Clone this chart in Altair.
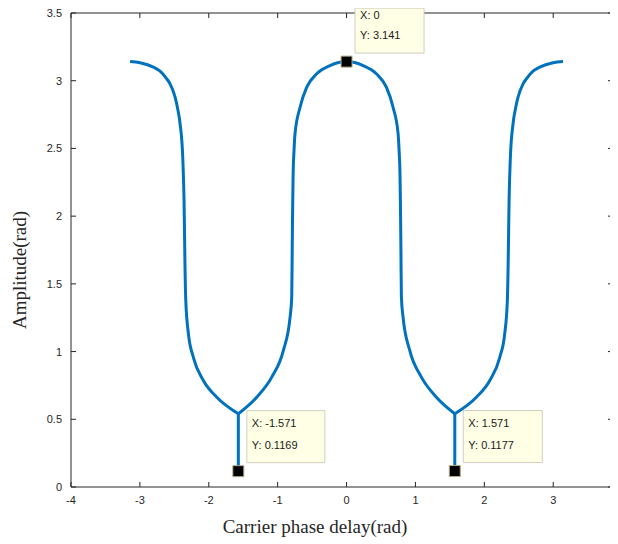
import altair as alt
import pandas as pd

# ---------------- data ----------------
x_ticks = [-4, -3, -2, -1, 0, 1, 2, 3]
x_labels = ["-4", "-3", "-2", "-1", "0", "1", "2", "3"]
y_ticks = [0, 0.5, 1, 1.5, 2, 2.5, 3, 3.5]
y_labels = ["0", "0.5", "1", "1.5", "2", "2.5", "3", "3.5"]
x_title = "Carrier phase delay(rad)"
y_title = "Amplitude(rad)"

arc_left_x = [-3.142, -2.997, -2.804, -2.707, -2.610, -2.562, -2.489, -2.456, -2.417,
              -2.378, -2.359, -2.345, -2.334, -2.296, -2.224, -2.079, -1.884, -1.571]
arc_left_y = [3.141, 3.132, 3.100, 3.070, 3.014, 2.977, 2.878, 2.804, 2.684,
              2.435, 2.115, 1.623, 1.377, 1.133, 0.958, 0.786, 0.663, 0.541]

arc_mid_x = [-1.571, -1.304, -1.086, -0.917, -0.820, -0.796, -0.789, -0.783, -0.776,
             -0.763, -0.748, -0.675, -0.578, -0.433, -0.240, 0.0,
             0.240, 0.433, 0.578, 0.675, 0.748, 0.763, 0.776, 0.783, 0.789, 0.796,
             0.820, 0.917, 1.086, 1.304, 1.571]
arc_mid_y = [0.541, 0.663, 0.811, 1.008, 1.254, 1.400, 1.750, 2.050, 2.300,
             2.480, 2.610, 2.804, 2.952, 3.051, 3.112, 3.141,
             3.112, 3.051, 2.952, 2.804, 2.610, 2.480, 2.300, 2.050, 1.750, 1.400,
             1.254, 1.008, 0.811, 0.663, 0.541]

arc_right_x = [1.571, 1.884, 2.079, 2.224, 2.296, 2.334, 2.345, 2.359, 2.378,
               2.417, 2.456, 2.489, 2.562, 2.610, 2.707, 2.804, 2.997, 3.142]
arc_right_y = [0.541, 0.663, 0.786, 0.958, 1.133, 1.377, 1.623, 2.115, 2.435,
               2.684, 2.804, 2.878, 2.977, 3.014, 3.070, 3.100, 3.132, 3.141]

stem_x = [-1.571, 1.571]
stem_top = [0.541, 0.541]
stem_bottom = [0.1169, 0.1177]

tip_x = [0, -1.571, 1.571]
tip_y = [3.141, 0.1169, 0.1177]
tip_x_text = ["X: 0", "X: -1.571", "X: 1.571"]
tip_y_text = ["Y: 3.141", "Y: 0.1169", "Y: 0.1177"]

# ---------------- tables ----------------
curve = pd.concat([
    pd.DataFrame({"x": arc_left_x, "y": arc_left_y, "seg": "left"}),
    pd.DataFrame({"x": arc_mid_x, "y": arc_mid_y, "seg": "mid"}),
    pd.DataFrame({"x": arc_right_x, "y": arc_right_y, "seg": "right"}),
], ignore_index=True)
stems = pd.DataFrame({"x": stem_x, "y": stem_top, "y2": stem_bottom})
tips = pd.DataFrame({"x": tip_x, "y": tip_y, "tx": tip_x_text, "ty": tip_y_text})
xt = pd.DataFrame({"v": x_ticks, "lab": x_labels})
yt = pd.DataFrame({"v": y_ticks, "lab": y_labels})
one = pd.DataFrame({"xt": [x_title], "yt": [y_title]})

# ---------------- styling ----------------
W, H = 539, 474
AX = "#262626"
BLUE = "#0072BD"
xs = alt.Scale(domain=[-4, 3.824], nice=False, zero=False)
ys = alt.Scale(domain=[0, 3.5], nice=False, zero=False)
NOX = dict(scale=xs, axis=None)
NOY = dict(scale=ys, axis=None)

line = alt.Chart(curve).mark_line(color=BLUE, strokeWidth=3, interpolate="monotone").encode(
    x=alt.X("x:Q", **NOX),
    y=alt.Y("y:Q", **NOY),
    detail="seg:N",
)

stem = alt.Chart(stems).mark_rule(color=BLUE, strokeWidth=3).encode(
    x=alt.X("x:Q", **NOX),
    y=alt.Y("y:Q", **NOY),
    y2="y2:Q",
)

# MATLAB-style box: left & bottom axis lines, top line, inward ticks
left_line = alt.Chart(one).mark_rule(color=AX, strokeWidth=1).encode(
    x=alt.value(0), y=alt.value(0), y2=alt.value(H))
bottom_line = alt.Chart(one).mark_rule(color=AX, strokeWidth=1).encode(
    x=alt.value(0), x2=alt.value(W), y=alt.value(H))
top_line = alt.Chart(one).mark_rule(color=AX, strokeWidth=1).encode(
    x=alt.value(0), x2=alt.value(W), y=alt.value(0))
bt = alt.Chart(xt).mark_rule(color=AX, strokeWidth=1).encode(
    x=alt.X("v:Q", **NOX), y=alt.value(H), y2=alt.value(H - 5))
tt = alt.Chart(xt).mark_rule(color=AX, strokeWidth=1).encode(
    x=alt.X("v:Q", **NOX), y=alt.value(0), y2=alt.value(5))
lt = alt.Chart(yt).mark_rule(color=AX, strokeWidth=1).encode(
    y=alt.Y("v:Q", **NOY), x=alt.value(0), x2=alt.value(5))
rt = alt.Chart(yt).mark_rule(color=AX, strokeWidth=1).encode(
    y=alt.Y("v:Q", **NOY), x=alt.value(W - 2), x2=alt.value(W))

# tick labels and axis titles
xlab = alt.Chart(xt).mark_text(font="Liberation Sans", fontSize=11, color=AX,
                               align="center", baseline="middle").encode(
    x=alt.X("v:Q", **NOX), y=alt.value(H + 14), text="lab:N")
ylab = alt.Chart(yt).mark_text(font="Liberation Sans", fontSize=11, color=AX,
                               align="right", baseline="middle", dy=1).encode(
    y=alt.Y("v:Q", **NOY), x=alt.value(-9), text="lab:N")
xtit = alt.Chart(one).mark_text(font="Liberation Serif", fontSize=19, color=AX,
                                align="center", baseline="middle").encode(
    x=alt.value(244), y=alt.value(H + 40), text="xt:N")
ytit = alt.Chart(one).mark_text(font="Liberation Serif", fontSize=19, color=AX,
                                align="center", baseline="middle", angle=270).encode(
    x=alt.value(-51), y=alt.value(257), text="yt:N")

markers = alt.Chart(tips).mark_square(size=121, filled=True, color="black",
                                      stroke="#b3ad88", strokeWidth=1, opacity=1).encode(
    x=alt.X("x:Q", **NOX),
    y=alt.Y("y:Q", **NOY),
)

# data-tip boxes (per-tip box size and text offsets, in pixels)
box_w = [69, 78, 79]
box_h = [45, 52, 52]
dy_x = [-45.8, -47.5, -47.5]
dy_y = [-25.8, -25.5, -25.5]
layers = [line, stem, left_line, bottom_line, top_line, bt, tt, lt, rt,
          xlab, ylab, xtit, ytit, markers]
for i, w in enumerate(box_w):
    sub = tips.iloc[[i]]
    h = box_h[i]
    box = alt.Chart(sub).mark_rect(width=w, height=h, xOffset=8.5 + w / 2,
                                   yOffset=-(8.5 + h / 2), fill="#ffffe6",
                                   stroke="#cfcfc0", strokeWidth=1).encode(
        x=alt.X("x:Q", **NOX),
        y=alt.Y("y:Q", **NOY),
    )
    t1 = alt.Chart(sub).mark_text(align="left", baseline="middle", dx=13.5, dy=dy_x[i],
                                  font="Liberation Sans", fontSize=11, color="#1a1a1a").encode(
        x=alt.X("x:Q", **NOX),
        y=alt.Y("y:Q", **NOY),
        text="tx:N",
    )
    t2 = alt.Chart(sub).mark_text(align="left", baseline="middle", dx=13.5, dy=dy_y[i],
                                  font="Liberation Sans", fontSize=11, color="#1a1a1a").encode(
        x=alt.X("x:Q", **NOX),
        y=alt.Y("y:Q", **NOY),
        text="ty:N",
    )
    layers += [box, t1, t2]

chart = alt.layer(*layers).properties(
    width=W, height=H,
    autosize=alt.AutoSizeParams(type="none"),
    padding={"left": 63, "top": 5, "right": 0, "bottom": 50},
    background="white",
).configure_view(stroke=None)

chart.save("out.html", embed_options={"renderer": "svg", "actions": False})
